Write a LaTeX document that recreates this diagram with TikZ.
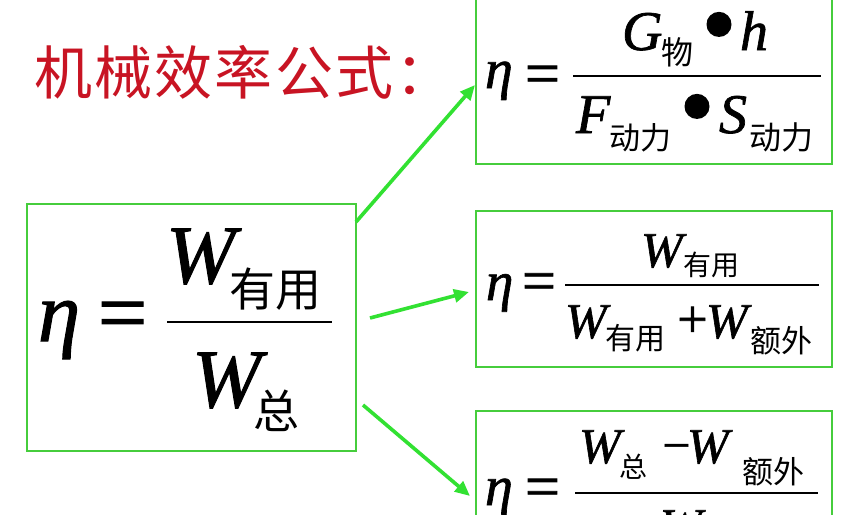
\documentclass[tikz,border=0pt]{standalone}
\usepackage{fontspec}
\setmainfont{Liberation Serif}
\newfontfamily\lat{Liberation Serif}[FakeBold=1.2]
\newfontfamily\cjk{Noto Sans CJK SC}
\newfontfamily\cjktitle{Noto Sans CJK SC}[LetterSpace=4]
\usetikzlibrary{arrows.meta,calc}
\definecolor{boxgreen}{RGB}{70,205,60}
\definecolor{arrowgreen}{RGB}{50,225,50}
\definecolor{titlered}{RGB}{200,20,35}
\newcommand\myfs[1]{\fontsize{#1}{#1}\selectfont}
\tikzset{
  fbox/.style={draw=boxgreen, line width=2.6pt, inner sep=0pt, outer sep=0pt},
  conn/.style={draw=arrowgreen, line width=3.6pt, -{Triangle[length=15pt,width=13pt]}},
  sym/.style={inner sep=0pt, outer sep=0pt, anchor=base west},
  mid/.style={inner sep=0pt, outer sep=0pt, anchor=center},
  sub/.style={inner sep=0pt, outer sep=0pt, anchor=west},
  fracbar/.style={line width=2.4pt},
}
\begin{document}
\begin{tikzpicture}[x=1pt,y=-1pt]
\useasboundingbox (0,0) rectangle (861,514);
\clip (0,0) rectangle (861,514);
\fill[white] (0,0) rectangle (861,514);

% title
\node[sym, text=titlered, font=\cjktitle\myfs{58}] (title) at (34,94) {机械效率公式：};

% boxes
\node[fbox, minimum width=329pt, minimum height=247pt] (mainbox) at (191.5,327.5) {};
\node[fbox, minimum width=356pt, minimum height=184pt] (topbox) at (654,72) {};
\node[fbox, minimum width=356pt, minimum height=156pt] (midbox) at (654,289) {};
\node[fbox, minimum width=356pt, minimum height=156pt] (botbox) at (654,489) {};

% main formula
\node[sym, font=\lat\itshape\myfs{85}] (m-eta) at (38,341) {η};
\node[mid, font=\lat\myfs{88}] (m-eq) at (122.5,322) {=};
\coordinate (m-l) at (167,322);
\coordinate (m-r) at (332,322);
\draw[fracbar] (m-l) -- (m-r);
\node[sym, font=\lat\itshape\myfs{83}] (m-W1) at (166,283) {W};
\node[sub, font=\cjk\myfs{46}] (m-s1) at (229,289) {有用};
\node[sym, font=\lat\itshape\myfs{83}] (m-W2) at (192,407) {W};
\node[sub, font=\cjk\myfs{46}] (m-s2) at (253,411) {总};

% top formula
\node[sym, font=\lat\itshape\myfs{56}] (t-eta) at (485,88) {η};
\node[mid, font=\lat\myfs{62}] (t-eq) at (542.5,80) {=};
\coordinate (t-l) at (573,76);
\coordinate (t-r) at (821,76);
\draw[fracbar] (t-l) -- (t-r);
\node[sym, font=\lat\itshape\myfs{56}] (t-G) at (622,50) {G};
\node[sub, font=\cjk\myfs{32}] (t-s1) at (661,52.5) {物};
\node[mid, font=\lat\myfs{100}] (t-d1) at (719,35) {•};
\node[sym, font=\lat\itshape\myfs{56}] (t-h) at (740,50) {h};
\node[sym, font=\lat\itshape\myfs{56}] (t-F) at (576,133) {F};
\node[sub, font=\cjk\myfs{31}] (t-s2) at (609,137.5) {动力};
\node[mid, font=\lat\myfs{100}] (t-d2) at (697,117) {•};
\node[sym, font=\lat\itshape\myfs{56}] (t-S) at (719,133) {S};
\node[sub, font=\cjk\myfs{32}] (t-s3) at (749,137.5) {动力};

% middle formula
\node[sym, font=\lat\itshape\myfs{55}] (c-eta) at (486,300) {η};
\node[mid, font=\lat\myfs{60}] (c-eq) at (539,287) {=};
\coordinate (c-l) at (565,285);
\coordinate (c-r) at (819,285);
\draw[fracbar] (c-l) -- (c-r);
\node[sym, font=\lat\itshape\myfs{50}] (c-W1) at (641,267) {W};
\node[sub, font=\cjk\myfs{28}] (c-s1) at (683,264.5) {有用};
\node[sym, font=\lat\itshape\myfs{50}] (c-W2) at (565,338) {W};
\node[sub, font=\cjk\myfs{30}] (c-s2) at (605,338.5) {有用};
\node[mid, font=\lat\myfs{54}] (c-plus) at (692.5,322) {+};
\node[sym, font=\lat\itshape\myfs{50}] (c-W3) at (706,338) {W};
\node[sub, font=\cjk\myfs{31}] (c-s3) at (750,341) {额外};

% bottom formula
\node[sym, font=\lat\itshape\myfs{56}] (b-eta) at (485,505) {η};
\node[mid, font=\lat\myfs{62}] (b-eq) at (542.5,493) {=};
\coordinate (b-l) at (575,493);
\coordinate (b-r) at (818,493);
\draw[fracbar] (b-l) -- (b-r);
\node[sym, font=\lat\itshape\myfs{50}] (b-W1) at (579,463) {W};
\node[sub, font=\cjk\myfs{28}] (b-s1) at (619,466.5) {总};
\node[mid, font=\lat\myfs{50}] (b-minus) at (676.5,453) {−};
\node[sym, font=\lat\itshape\myfs{50}] (b-W2) at (687,463) {W};
\node[sub, font=\cjk\myfs{31}] (b-s2) at (742,471.5) {额外};
\node[sym, font=\lat\itshape\myfs{50}] (b-W3) at (660,543) {W};
\node[sub, font=\cjk\myfs{28}] (b-s3) at (703,547) {总};

% connectors
\draw[conn] ($(mainbox.north east)+(0,18)$) -- ($(topbox.west)+(-1,13)$);
\draw[conn] ($(mainbox.east)+(14,-9.5)$) -- ($(midbox.west)+(-7,3)$);
\draw[conn] ($(mainbox.east)+(7,77.5)$) -- ($(botbox.west)+(-6,7)$);
\end{tikzpicture}
\end{document}
